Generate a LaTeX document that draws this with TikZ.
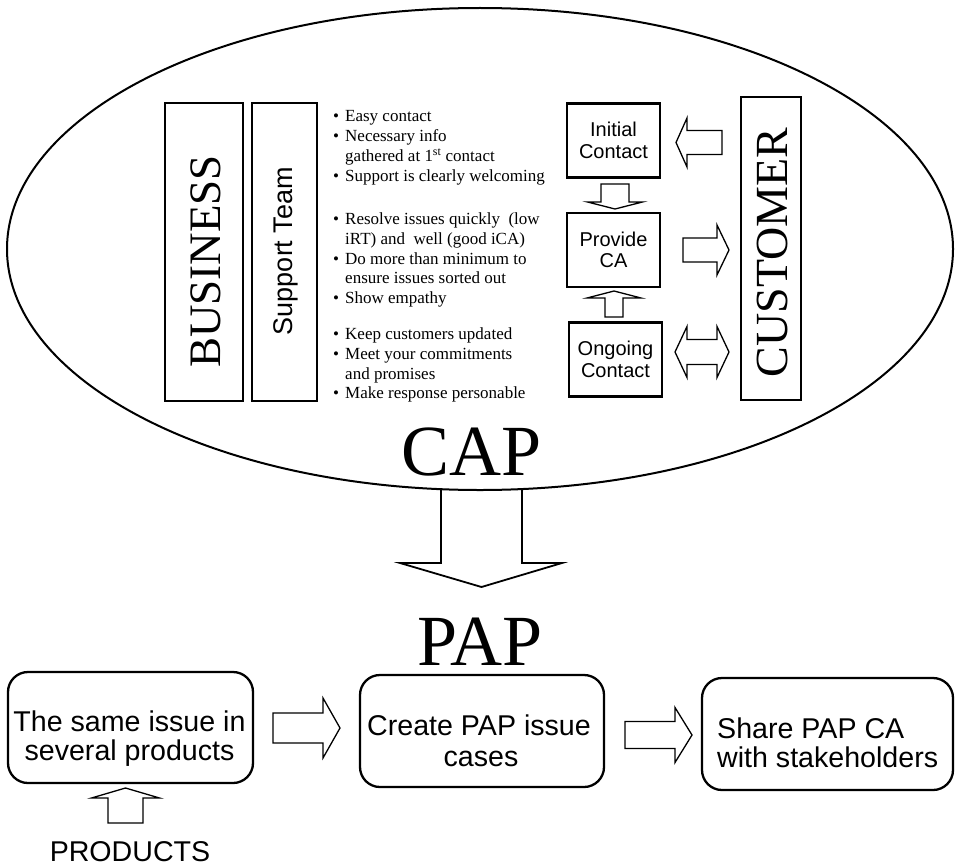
\documentclass[tikz,border=0pt]{standalone}
\usepackage{fontspec}
\setmainfont{Liberation Serif}
\newfontfamily\sansf{Liberation Sans}
\usetikzlibrary{shapes.geometric}

% hollow block arrows
% horizontal: tail x, head-base x, tip x, centre y, shaft half-width, head half-width
\newcommand\blockH[6]{\draw[blockarrow] (#1,#4-#5) -- (#2,#4-#5) -- (#2,#4-#6) -- (#3,#4)
  -- (#2,#4+#6) -- (#2,#4+#5) -- (#1,#4+#5) -- cycle;}
% vertical: tail y, head-base y, tip y, centre x, shaft half-width, head half-width
\newcommand\blockV[6]{\draw[blockarrow] (#4-#5,#1) -- (#4-#5,#2) -- (#4-#6,#2) -- (#4,#3)
  -- (#4+#6,#2) -- (#4+#5,#2) -- (#4+#5,#1) -- cycle;}
\newcommand\bitem{\makebox[12pt][l]{\textbullet}}

\begin{document}
\begin{tikzpicture}[x=1pt,y=-1pt,
  blockarrow/.style={draw, line width=1.3, line join=miter},
  tallbox/.style={draw, line width=2.6, rotate=90, inner sep=0},
  upright/.style={rotate=90, inner sep=0},
  stepbox/.style={draw, line width=2.2, inner sep=0, minimum width=93, minimum height=74,
    align=center, font=\sansf\fontsize{20}{21.5}\selectfont},
  roundbox/.style={draw, line width=2.3, rounded corners=20, inner sep=0},
  bullet/.style={anchor=base west, inner sep=0, font=\fontsize{17}{20}\selectfont},
  boxtext/.style={anchor=base, inner sep=0, font=\sansf\fontsize{28.6}{31}\selectfont},
  title/.style={anchor=base, inner sep=0, font=\fontsize{72}{72}\selectfont}]
\useasboundingbox (0,0) rectangle (955,867);

% ---------- CAP zone ----------
\node[ellipse, draw, line width=2, inner sep=0, minimum width=946, minimum height=482]
  (capzone) at (480,249) {};

\node[tallbox, minimum width=298, minimum height=78] (business) at (204,252) {};
\node[upright, font=\fontsize{45}{45}\selectfont] (businesslabel) at (206,261.5) {BUSINESS};
\node[tallbox, minimum width=298, minimum height=65] (support) at (284.5,252) {};
\node[upright, font=\sansf\fontsize{27}{27}\selectfont] (supportlabel) at (285.5,251) {Support Team};
\node[tallbox, minimum width=303, minimum height=60] (customer) at (771,248.5) {};
\node[upright, font=\fontsize{46}{46}\selectfont] (customerlabel) at (772,252.5) {CUSTOMER};

% expectations of the support team
\node[bullet] (e1)  at (333,121.5) {\bitem Easy contact};
\node[bullet] (e2)  at (333,141.5) {\bitem Necessary info};
\node[bullet] (e3)  at (345,161.5) {gathered at 1\textsuperscript{st} contact};
\node[bullet] (e4)  at (333,181.5) {\bitem Support is clearly welcoming};
\node[bullet] (e5)  at (333,224.5) {\bitem Resolve issues quickly\ \ (low};
\node[bullet] (e6)  at (345,244.5) {iRT) and\ \ well (good iCA)};
\node[bullet] (e7)  at (333,264)   {\bitem Do more than minimum to};
\node[bullet] (e8)  at (345,283.5) {ensure issues sorted out};
\node[bullet] (e9)  at (333,303)   {\bitem Show empathy};
\node[bullet] (e10) at (333,339.5) {\bitem Keep customers updated};
\node[bullet] (e11) at (333,359.5) {\bitem Meet your commitments};
\node[bullet] (e12) at (345,379)   {and promises};
\node[bullet] (e13) at (333,398.5) {\bitem Make response personable};

% contact stages
\node[stepbox] (initial) at (613.5,140.5) {Initial\\Contact};
\node[stepbox] (provide) at (613.5,250)   {Provide\\CA};
\node[stepbox] (ongoing) at (615.5,359.5) {Ongoing\\Contact};

\blockH{722}{687}{676}{142.5}{12}{24.5}   % customer -> initial contact
\blockV{184}{202}{209}{615}{14}{27.5}     % initial contact -> provide CA
\blockH{683}{717}{729}{250}{12}{25}       % provide CA -> customer
\blockV{317}{298}{291}{614}{9}{27}        % ongoing contact -> provide CA
% ongoing contact <-> customer
\draw[blockarrow] (675,352) -- (687,352-25.5) -- (687,352-12.5) -- (717,352-12.5)
  -- (717,352-25.5) -- (729,352) -- (717,352+25.5) -- (717,352+12.5)
  -- (687,352+12.5) -- (687,352+25.5) -- cycle;

\node[title] (cap) at (472,475) {CAP};

% CAP feeds PAP
\draw[blockarrow, line width=1.8] (441,489) -- (441,563) -- (400,563) -- (481.5,587)
  -- (562,563) -- (522,563) -- (522,489);

\node[title] (pap) at (480,665) {PAP};

% ---------- PAP flow ----------
\node[roundbox, minimum width=245, minimum height=111] (same)   at (130.5,727.5) {};
\node[roundbox, minimum width=244, minimum height=112] (create) at (482,731) {};
\node[roundbox, minimum width=251, minimum height=112] (share)  at (827.5,734) {};

\node[boxtext] (same1)   at (129.5,731) {The same issue in};
\node[boxtext] (same2)   at (129.5,760) {several products};
\node[boxtext] (create1) at (479,735)   {Create PAP issue};
\node[boxtext] (create2) at (481,766)   {cases};
\node[boxtext, anchor=base west] (share1) at (717,738) {Share PAP CA};
\node[boxtext, anchor=base west] (share2) at (717,767) {with stakeholders};

\blockH{273}{323}{340}{728}{15}{30}       % same issue -> create cases
\blockH{625}{675}{692}{735}{13.5}{27.5}   % create cases -> share

\node[boxtext] (products) at (130,861) {PRODUCTS};
\blockV{823}{798}{788}{125.5}{17.5}{34}   % products -> same issue
\end{tikzpicture}
\end{document}
